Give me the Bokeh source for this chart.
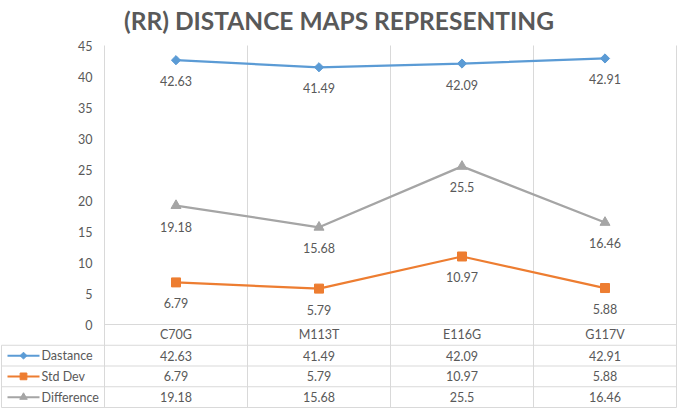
from bokeh.plotting import figure
from bokeh.models import Range1d
from bokeh.embed import file_html
from bokeh.resources import INLINE
from bokeh.core.properties import value
import numpy as np

# ---------------- data ----------------
categories = ["C70G", "M113T", "E116G", "G117V"]
dastance = [42.63, 41.49, 42.09, 42.91]
std_dev = [6.79, 5.79, 10.97, 5.88]
difference = [19.18, 15.68, 25.5, 16.46]
series_names = ["Dastance", "Std Dev", "Difference"]
y_ticks = [0, 5, 10, 15, 20, 25, 30, 35, 40, 45]
title_text = "(RR) DISTANCE MAPS REPRESENTING"

# ---------------- style / layout ----------------
BLUE, ORANGE, GRAY = "#5b9bd5", "#ed7d31", "#a5a5a5"
TXT = "#595959"
GRID = "#d9d9d9"
FONT = "Lato"

W, H = 677, 408
PX_X = 143.0   # px per category
PX_Y = 6.2     # px per y unit
ZERO_PX = 324  # figure y of value 0
TOP_PX = 38
AXIS_PX = 104  # figure x of category 0 boundary
TABLE_BOTTOM_PX = 407

def xd(px):
    return (px - AXIS_PX) / PX_X

def yd(py):
    return (ZERO_PX - py) / PX_Y

ROW_H = (TABLE_BOTTOM_PX - ZERO_PX) / 4 / PX_Y
n = len(categories)
xs = [i + 0.5 for i in range(n)]

p = figure(width=W, height=H, output_backend="svg", toolbar_location=None,
           x_range=Range1d(xd(0), xd(W)),
           y_range=Range1d(yd(H), yd(TOP_PX)),
           x_axis_location=None, y_axis_location=None,
           min_border_left=0, min_border_right=0, min_border_bottom=0, min_border_top=TOP_PX)
p.xgrid.visible = False
p.ygrid.visible = False
p.outline_line_color = None
p.title.text = title_text
p.title.text_font = FONT
p.title.text_font_size = "24.5px"
p.title.text_font_style = "bold"
p.title.text_color = TXT
p.title.align = "center"
p.title.offset = 10
p.title.standoff = 7

# ---------------- grid / table lines ----------------
vx = list(range(n + 1))
p.segment(x0=vx, y0=[-4 * ROW_H] * (n + 1), x1=vx, y1=[y_ticks[-1]] * (n + 1),
          line_color=GRID, line_width=1)
left_x = xd(1)
p.segment(x0=[left_x], y0=[-ROW_H], x1=[left_x], y1=[-4 * ROW_H], line_color=GRID, line_width=1)
p.segment(x0=[0], y0=[0], x1=[n], y1=[0], line_color=GRID, line_width=1)
hy = [-(k + 1) * ROW_H for k in range(4)]
p.segment(x0=[left_x] * 4, y0=hy, x1=[n] * 4, y1=hy, line_color=GRID, line_width=1)

# ---------------- y tick labels ----------------
p.text(x=[xd(92)] * len(y_ticks), y=y_ticks, text=[str(t) for t in y_ticks],
       text_align="right", text_baseline="middle", text_font=value(FONT),
       text_font_size="12.5px", text_color=TXT)

# ---------------- series ----------------
series = [dastance, std_dev, difference]
colors = [BLUE, ORANGE, GRAY]
markers = ["square", "square", "triangle"]
angles = [np.pi / 4, 0, 0]
sizes = [6.5, 9, 10]

for vals, c, m, a, s in zip(series, colors, markers, angles, sizes):
    p.line(xs, vals, line_color=c, line_width=2.25)
    p.scatter(xs, vals, marker=m, angle=a, size=s, fill_color=c, line_color=c)
    p.text(x=xs, y=vals, text=[f"{v:g}" for v in vals], y_offset=21,
           text_align="center", text_baseline="middle", text_font=value(FONT),
           text_font_size="12.5px", text_color=TXT)

# ---------------- data table ----------------
p.text(x=xs, y=[-0.5 * ROW_H] * n, text=categories, text_align="center",
       text_baseline="middle", text_font=value(FONT), text_font_size="12.5px", text_color=TXT)
for k, (name, vals, c, m, a, s) in enumerate(zip(series_names, series, colors, markers, angles, sizes)):
    yc = -(k + 1.5) * ROW_H
    p.text(x=xs, y=[yc] * n, text=[f"{v:g}" for v in vals], text_align="center",
           text_baseline="middle", text_font=value(FONT), text_font_size="12.5px", text_color=TXT)
    p.segment(x0=[xd(7)], y0=[yc], x1=[xd(39)], y1=[yc], line_color=c, line_width=2)
    p.scatter([xd(23)], [yc], marker=m, angle=a, size=s * 0.75, fill_color=c, line_color=c)
    p.text(x=[xd(41)], y=[yc], text=[name], text_align="left", text_baseline="middle",
           text_font=value(FONT), text_font_size="12.5px", text_color=TXT)

open("out.html", "w").write(file_html(p, INLINE))
